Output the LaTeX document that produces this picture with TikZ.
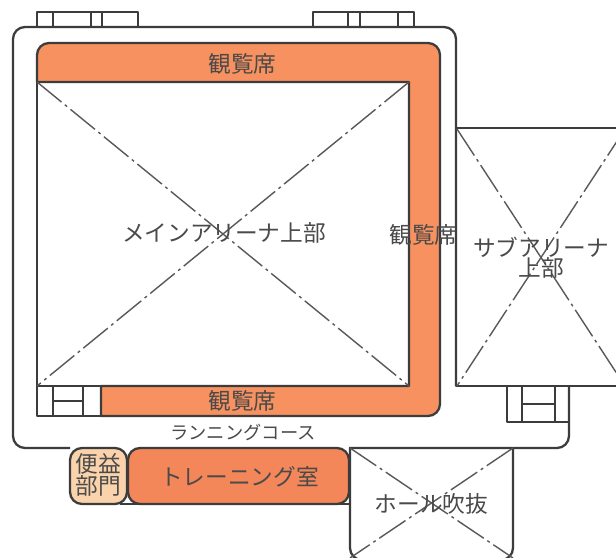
\documentclass[tikz,border=0pt]{standalone}
\usepackage{fontspec}
\newfontfamily\cjk{Noto Sans CJK JP}
\definecolor{seatorange}{HTML}{F89160}
\definecolor{roomorange}{HTML}{F3875A}
\definecolor{roompeach}{HTML}{FAD3AC}
\definecolor{wallgray}{HTML}{3C3C3C}
\definecolor{labelgray}{HTML}{4A4A4A}
\tikzset{
	wall/.style={line width=1.3pt,draw=wallgray,line join=round},
	voidline/.style={line width=.8pt,draw=wallgray!85,dash pattern=on 18pt off 2.5pt on 1.6pt off 2.5pt},
	roomlabel/.style={text=labelgray,inner sep=0pt,align=center,font=\cjk\fontsize{12.9}{11.6}\selectfont},
	smalllabel/.style={roomlabel,font=\cjk\fontsize{10.4}{12}\selectfont},
}

\begin{document}
\begin{tikzpicture}[x=0.02cm,y=-0.02cm]
			\clip (0,0) rectangle (616,558);
			\fill[white] (0,0) rectangle (616,558);
			\draw[wall] (70,448) [rounded corners=.24cm] --(13,448)--(13,27)--(456,27) [sharp corners] --(456,386);
			\draw[wall] (569,386) [rounded corners=.24cm] --(569,448) [sharp corners] --(349,448);
			\draw[wall] (37,27)--(37,12)--(138,12)--(138,27);
			\draw[wall] (53,12)--(53,27) (91,12)--(91,27) (102,12)--(102,27);
			\draw[wall] (313,27)--(313,12)--(414,12)--(414,27);
			\draw[wall] (348,12)--(348,27) (360,12)--(360,27) (398,12)--(398,27);
			\draw[wall,fill=seatorange] (37,82) [rounded corners=.24cm] --(37,43)--(440,43)--(440,416) [sharp corners] --(101,416)--(101,386)--(409,386)--(409,82)--cycle;
			\draw[wall] (37,82)--(37,416)--(101,416);
			\draw[wall] (37,386)--(101,386);
			\draw[wall] (53,386)--(53,416) (83,386)--(83,416) (53,401)--(83,401);
			\draw[voidline] (37,82)--(409,386);
			\draw[voidline] (409,82)--(37,386);
			\draw[wall] (456,128) rectangle (625,386);
			\draw[voidline] (457,129)--(625,386);
			\draw[voidline] (625,129)--(457,386);
			\draw[wall] (507,386)--(507,422)--(569,422);
			\draw[wall] (522,386)--(522,422) (555,386)--(555,422) (522,404)--(555,404);
			\draw[wall] (120,504)--(350,504);
			\draw[wall,fill=roompeach,rounded corners=.24cm] (70,448) rectangle (127,504);
			\draw[wall,fill=roomorange,rounded corners=.24cm] (128,448) rectangle (349,504);
			\draw[wall] (350,448) [rounded corners=.24cm] --(350,560)--(513,560) [sharp corners] --(513,448);
			\draw[voidline] (350,448)--(513,558);
			\draw[voidline] (513,448)--(350,558);
			\node[roomlabel] (seattop) at (242.5,64) {観覧席};
			\node[roomlabel] (seatright) at (423.5,235) {観覧席};
			\node[roomlabel] (seatbottom) at (242.5,401) {観覧席};
			\node[roomlabel] (mainarena) at (224,233) {メインアリーナ上部};
			\node[roomlabel] (subarena) at (541,258) {サブアリーナ\\上部};
			\node[smalllabel] (course) at (243,432) {ランニングコース};
			\node[roomlabel] (amenity) at (98,475) {便益\\部門};
			\node[roomlabel] (training) at (239.5,477) {トレーニング室};
			\node[roomlabel] (hall) at (431.5,504) {ホール吹抜};
		\end{tikzpicture}
\end{document}
